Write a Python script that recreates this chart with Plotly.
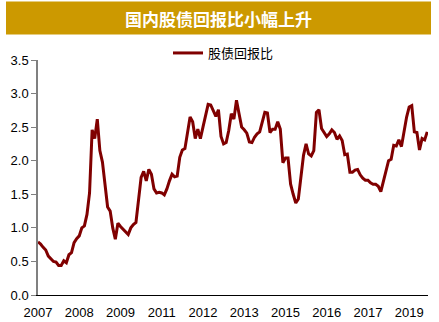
import plotly.graph_objects as go

# Monthly stock/bond return ratio, Jan 2007 - Aug 2019
ratio = [
    0.79, 0.76, 0.71, 0.67, 0.58, 0.54, 0.50, 0.49, 0.44, 0.44,
    0.51, 0.48, 0.60, 0.63, 0.78, 0.84, 0.88, 1.00, 1.03, 1.20,
    1.52, 2.46, 2.33, 2.62, 2.15, 1.98, 1.68, 1.31, 1.25, 1.00,
    0.83, 1.07, 1.02, 0.98, 0.95, 0.90, 1.00, 1.05, 1.08, 1.45,
    1.75, 1.84, 1.70, 1.87, 1.80, 1.58, 1.52, 1.53, 1.52, 1.49,
    1.58, 1.70, 1.80, 1.76, 1.77, 2.05, 2.16, 2.18, 2.40, 2.65,
    2.58, 2.33, 2.47, 2.33, 2.50, 2.68, 2.84, 2.83, 2.75, 2.66,
    2.76, 2.36, 2.25, 2.27, 2.45, 2.70, 2.62, 2.90, 2.70, 2.50,
    2.46, 2.41, 2.28, 2.27, 2.35, 2.40, 2.43, 2.58, 2.72, 2.71,
    2.42, 2.47, 2.47, 2.58, 2.47, 1.97, 2.04, 2.04, 1.65, 1.50,
    1.37, 1.43, 1.78, 2.08, 2.25, 2.10, 2.07, 2.15, 2.72, 2.76,
    2.48, 2.42, 2.36, 2.40, 2.46, 2.42, 2.32, 2.37, 2.30, 2.09,
    2.10, 1.83, 1.83, 1.86, 1.87, 1.79, 1.74, 1.71, 1.71, 1.67,
    1.65, 1.65, 1.62, 1.54, 1.71, 1.86, 2.00, 2.02, 2.23, 2.22,
    2.31, 2.21, 2.45, 2.65, 2.80, 2.82, 2.43, 2.42, 2.16, 2.33,
    2.31, 2.43,
]
months = list(range(len(ratio)))

# Category labels every 16 months
tick_pos = list(range(0, len(ratio), 16))
tick_text = ["2007", "2008", "2009", "2011", "2012",
             "2013", "2015", "2016", "2017", "2019"]

y_ticks = [0.0, 0.5, 1.0, 1.5, 2.0, 2.5, 3.0, 3.5]

title_text = "国内股债回报比小幅上升"
series_name = "股债回报比"

fig = go.Figure()
fig.add_trace(go.Scatter(
    x=months, y=ratio, mode="lines", name=series_name,
    line=dict(color="#800000", width=3),
))

W, H = 439, 322
ml, mr, mt, mb = 38, 11, 60, 27
pw, ph = W - ml - mr, H - mt - mb

def px_x(p):
    return (p - ml) / pw

def px_y(p):
    return (H - mb - p) / ph

fig.add_shape(type="rect", xref="paper", yref="paper",
              x0=px_x(6), x1=px_x(431), y0=px_y(34.5), y1=px_y(1.5),
              fillcolor="#CC9900", line=dict(width=0), layer="below")
fig.add_annotation(text="<b>" + title_text + "</b>", xref="paper", yref="paper",
                   x=px_x(218), y=px_y(18.5), showarrow=False,
                   xanchor="center", yanchor="middle",
                   font=dict(family="Noto Sans CJK SC", size=17, color="white"))

fig.update_layout(
    width=W, height=H,
    margin=dict(l=ml, r=mr, t=mt, b=mb, pad=0, autoexpand=False),
    paper_bgcolor="white", plot_bgcolor="white",
    showlegend=True,
    legend=dict(x=px_x(168), y=px_y(53), xanchor="left", yanchor="middle",
                orientation="h", bgcolor="rgba(0,0,0,0)",
                font=dict(family="Noto Sans CJK SC", size=13, color="black"),
                itemwidth=30),
    font=dict(family="Liberation Sans", size=13, color="black"),
)
fig.update_xaxes(
    range=[0, 151.3], tickmode="array", tickvals=tick_pos, ticktext=tick_text,
    showgrid=False, zeroline=False, showline=True, linecolor="black",
    linewidth=1, ticks="outside", ticklen=5, tickcolor="rgba(0,0,0,0)",
    tickfont=dict(size=13), automargin=False,
)
fig.update_yaxes(
    range=[0, 3.5], tickmode="array", tickvals=y_ticks,
    tickformat=".1f", showgrid=False, zeroline=False, showline=True,
    linecolor="#808080", linewidth=1.5, ticks="outside", ticklen=5,
    tickcolor="#808080", tickfont=dict(size=13), automargin=False,
)

fig.write_html("out.html")
